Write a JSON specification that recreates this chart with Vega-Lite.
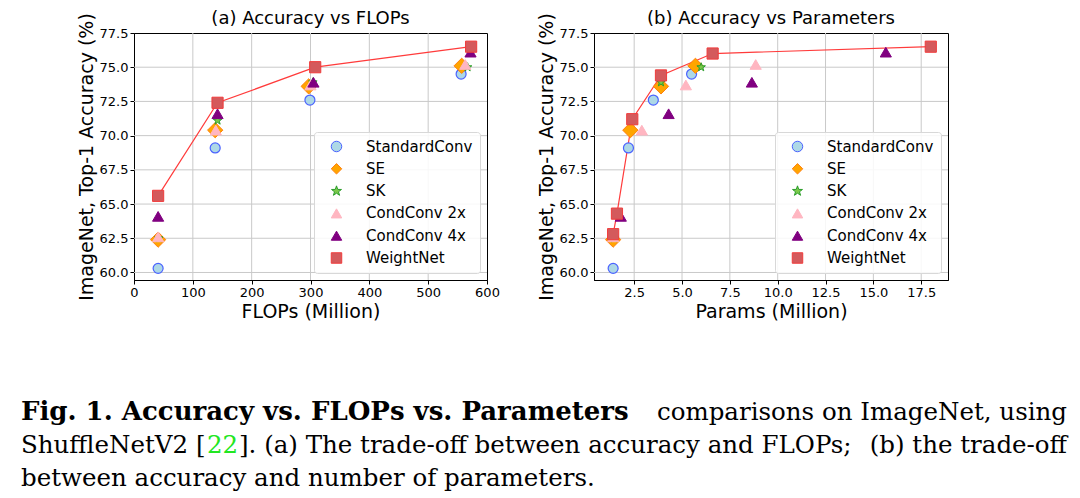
{
  "$schema": "https://vega.github.io/schema/vega-lite/v6.json",
  "autosize": {"type": "pad"},
  "padding": {"left": 21, "top": 9, "right": 5, "bottom": 0},
  "bounds": "flush",
  "columns": 2,
  "spacing": {"column": 107, "row": 100},
  "datasets": {
    "flops": [
      {"model": "StandardConv", "flops": 41, "acc": 60.3},
      {"model": "StandardConv", "flops": 138, "acc": 69.1},
      {"model": "StandardConv", "flops": 299, "acc": 72.6},
      {"model": "StandardConv", "flops": 556, "acc": 74.5},
      {"model": "SE", "flops": 41, "acc": 62.4},
      {"model": "SE", "flops": 138, "acc": 70.4},
      {"model": "SE", "flops": 297, "acc": 73.6},
      {"model": "SE", "flops": 557, "acc": 75.1},
      {"model": "SK", "flops": 42, "acc": 62.5},
      {"model": "SK", "flops": 142, "acc": 71.1},
      {"model": "SK", "flops": 304, "acc": 73.9},
      {"model": "SK", "flops": 567, "acc": 75.0},
      {"model": "CondConv 2x", "flops": 41, "acc": 62.6},
      {"model": "CondConv 2x", "flops": 139, "acc": 70.4},
      {"model": "CondConv 2x", "flops": 300, "acc": 73.7},
      {"model": "CondConv 2x", "flops": 563, "acc": 75.2},
      {"model": "CondConv 4x", "flops": 41, "acc": 64.1},
      {"model": "CondConv 4x", "flops": 142, "acc": 71.6},
      {"model": "CondConv 4x", "flops": 305, "acc": 73.9},
      {"model": "CondConv 4x", "flops": 572, "acc": 76.1},
      {"model": "WeightNet", "flops": 41, "acc": 65.6},
      {"model": "WeightNet", "flops": 142, "acc": 72.4},
      {"model": "WeightNet", "flops": 308, "acc": 75.0},
      {"model": "WeightNet", "flops": 573, "acc": 76.5}
    ],
    "params": [
      {"model": "StandardConv", "params": 1.4, "acc": 60.3},
      {"model": "StandardConv", "params": 2.2, "acc": 69.1},
      {"model": "StandardConv", "params": 3.5, "acc": 72.6},
      {"model": "StandardConv", "params": 5.5, "acc": 74.5},
      {"model": "SE", "params": 1.4, "acc": 62.4},
      {"model": "SE", "params": 2.3, "acc": 70.4},
      {"model": "SE", "params": 3.9, "acc": 73.6},
      {"model": "SE", "params": 5.7, "acc": 75.1},
      {"model": "SK", "params": 1.45, "acc": 62.5},
      {"model": "SK", "params": 2.4, "acc": 71.1},
      {"model": "SK", "params": 3.9, "acc": 73.9},
      {"model": "SK", "params": 6.0, "acc": 75.0},
      {"model": "CondConv 2x", "params": 1.4, "acc": 62.6},
      {"model": "CondConv 2x", "params": 2.9, "acc": 70.4},
      {"model": "CondConv 2x", "params": 5.2, "acc": 73.7},
      {"model": "CondConv 2x", "params": 8.85, "acc": 75.2},
      {"model": "CondConv 4x", "params": 1.8, "acc": 64.1},
      {"model": "CondConv 4x", "params": 4.3, "acc": 71.6},
      {"model": "CondConv 4x", "params": 8.65, "acc": 73.9},
      {"model": "CondConv 4x", "params": 15.65, "acc": 76.1},
      {"model": "WeightNet", "params": 1.4, "acc": 62.8},
      {"model": "WeightNet", "params": 1.6, "acc": 64.3},
      {"model": "WeightNet", "params": 2.4, "acc": 71.2},
      {"model": "WeightNet", "params": 3.9, "acc": 74.4},
      {"model": "WeightNet", "params": 6.6, "acc": 76.0},
      {"model": "WeightNet", "params": 18.0, "acc": 76.5}
    ],
    "accTicks": [{"tick": 60}, {"tick": 62.5}, {"tick": 65}, {"tick": 67.5}, {"tick": 70}, {"tick": 72.5}, {"tick": 75}],
    "flopsTicks": [{"tick": 100}, {"tick": 200}, {"tick": 300}, {"tick": 400}, {"tick": 500}],
    "paramsTicks": [{"tick": 2.5}, {"tick": 5}, {"tick": 7.5}, {"tick": 10}, {"tick": 12.5}, {"tick": 15}, {"tick": 17.5}],
    "caption": [
      {"line": 1, "side": "left", "role": "heading", "text": "Fig. 1. Accuracy vs. FLOPs vs. Parameters"},
      {"line": 1, "side": "right", "role": "body", "text": "comparisons on ImageNet, using"},
      {"line": 2, "side": "left", "role": "body", "text": "ShuffleNetV2 ["},
      {"line": 2, "side": "left", "role": "citation", "text": "22"},
      {"line": 2, "side": "left", "role": "after-citation", "text": "]. (a) The trade-off between accuracy and FLOPs;"},
      {"line": 2, "side": "right", "role": "body", "text": "(b) the trade-off"},
      {"line": 3, "side": "left", "role": "body", "text": "between accuracy and number of parameters."}
    ]
  },
  "concat": [
    {
      "width": 353,
      "height": 247,
      "title": "(a) Accuracy vs FLOPs",
      "layer": [
        {
          "data": {"name": "flopsTicks"},
          "mark": {"type": "rule", "color": "#c9c9c9", "strokeWidth": 1},
          "encoding": {"x": {"field": "tick", "type": "quantitative", "scale": {"domain": [0, 600], "nice": false, "zero": false}, "axis": {"values": [0, 100, 200, 300, 400, 500, 600], "format": "d", "title": "FLOPs (Million)"}}}
        },
        {
          "data": {"name": "accTicks"},
          "mark": {"type": "rule", "color": "#c9c9c9", "strokeWidth": 1},
          "encoding": {"y": {"field": "tick", "type": "quantitative", "scale": {"domain": [59.45, 77.5], "nice": false, "zero": false}, "axis": {"values": [60, 62.5, 65, 67.5, 70, 72.5, 75, 77.5], "format": ".1f", "title": "ImageNet, Top-1 Accuracy (%)"}}}
        },
        {
          "data": {"name": "flops"},
          "encoding": {
            "x": {
              "field": "flops",
              "type": "quantitative",
              "scale": {"domain": [0, 600], "nice": false, "zero": false},
              "axis": {"values": [0, 100, 200, 300, 400, 500, 600], "format": "d", "title": "FLOPs (Million)"}
            },
            "y": {
              "field": "acc",
              "type": "quantitative",
              "scale": {"domain": [59.45, 77.5], "nice": false, "zero": false},
              "axis": {"values": [60, 62.5, 65, 67.5, 70, 72.5, 75, 77.5], "format": ".1f", "title": "ImageNet, Top-1 Accuracy (%)"}
            },
            "shape": {
              "field": "model", "type": "nominal",
              "scale": {
                "domain": ["StandardConv", "SE", "SK", "CondConv 2x", "CondConv 4x", "WeightNet"],
                "range": ["circle", "diamond", "M0,-1L0.235,-0.324L0.951,-0.309L0.38,0.124L0.588,0.809L0,0.4L-0.588,0.809L-0.38,0.124L-0.951,-0.309L-0.235,-0.324Z", "triangle-up", "triangle-up", "square"]
              },
              "legend": {"title": null}
            },
            "fill": {
              "field": "model", "type": "nominal",
              "scale": {
                "domain": ["StandardConv", "SE", "SK", "CondConv 2x", "CondConv 4x", "WeightNet"],
                "range": ["#add8e6", "#ffa500", "#7cc94a", "#ffb6c1", "#800080", "#d45a5c"]
              },
              "legend": {"title": null}
            },
            "stroke": {
              "field": "model", "type": "nominal",
              "scale": {
                "domain": ["StandardConv", "SE", "SK", "CondConv 2x", "CondConv 4x", "WeightNet"],
                "range": ["#4a62ff", "#ff7f0e", "#2a9d2a", "#ffb6c1", "#800080", "#f03c3c"]
              },
              "legend": {"title": null}
            }
          },
          "layer": [
            {
              "transform": [{"filter": "datum.model === 'WeightNet'"}],
              "mark": {"type": "line", "strokeWidth": 1.2},
              "encoding": {"stroke": {"value": "#ff3b3b"}, "fill": {"value": null}, "shape": {"value": "circle"}}
            },
            {"transform": [{"filter": "datum.model === 'StandardConv'"}], "mark": {"type": "point", "filled": true, "opacity": 1, "size": 100, "strokeWidth": 1.2}},
            {"transform": [{"filter": "datum.model === 'SE'"}], "mark": {"type": "point", "filled": true, "opacity": 1, "size": 235, "strokeWidth": 1}},
            {"transform": [{"filter": "datum.model === 'SK'"}], "mark": {"type": "point", "filled": true, "opacity": 1, "size": 80, "strokeWidth": 1}},
            {"transform": [{"filter": "datum.model === 'CondConv 2x' || datum.model === 'CondConv 4x'"}], "mark": {"type": "point", "filled": true, "opacity": 1, "size": 125, "strokeWidth": 1}},
            {"transform": [{"filter": "datum.model === 'WeightNet'"}], "mark": {"type": "point", "filled": true, "opacity": 1, "size": 125, "strokeWidth": 1}}
          ]
        }
      ]
    },
    {
      "width": 354,
      "height": 247,
      "title": "(b) Accuracy vs Parameters",
      "layer": [
        {
          "data": {"name": "paramsTicks"},
          "mark": {"type": "rule", "color": "#c9c9c9", "strokeWidth": 1},
          "encoding": {"x": {"field": "tick", "type": "quantitative", "scale": {"domain": [0.4, 18.9], "nice": false, "zero": false}, "axis": {"values": [2.5, 5, 7.5, 10, 12.5, 15, 17.5], "format": ".1f", "title": "Params (Million)"}}}
        },
        {
          "data": {"name": "accTicks"},
          "mark": {"type": "rule", "color": "#c9c9c9", "strokeWidth": 1},
          "encoding": {"y": {"field": "tick", "type": "quantitative", "scale": {"domain": [59.45, 77.5], "nice": false, "zero": false}, "axis": {"values": [60, 62.5, 65, 67.5, 70, 72.5, 75, 77.5], "format": ".1f", "title": "ImageNet, Top-1 Accuracy (%)"}}}
        },
        {
          "data": {"name": "params"},
          "encoding": {
            "x": {
              "field": "params",
              "type": "quantitative",
              "scale": {"domain": [0.4, 18.9], "nice": false, "zero": false},
              "axis": {"values": [2.5, 5, 7.5, 10, 12.5, 15, 17.5], "format": ".1f", "title": "Params (Million)"}
            },
            "y": {
              "field": "acc",
              "type": "quantitative",
              "scale": {"domain": [59.45, 77.5], "nice": false, "zero": false},
              "axis": {"values": [60, 62.5, 65, 67.5, 70, 72.5, 75, 77.5], "format": ".1f", "title": "ImageNet, Top-1 Accuracy (%)"}
            },
            "shape": {
              "field": "model", "type": "nominal",
              "scale": {
                "domain": ["StandardConv", "SE", "SK", "CondConv 2x", "CondConv 4x", "WeightNet"],
                "range": ["circle", "diamond", "M0,-1L0.235,-0.324L0.951,-0.309L0.38,0.124L0.588,0.809L0,0.4L-0.588,0.809L-0.38,0.124L-0.951,-0.309L-0.235,-0.324Z", "triangle-up", "triangle-up", "square"]
              },
              "legend": {"title": null}
            },
            "fill": {
              "field": "model", "type": "nominal",
              "scale": {
                "domain": ["StandardConv", "SE", "SK", "CondConv 2x", "CondConv 4x", "WeightNet"],
                "range": ["#add8e6", "#ffa500", "#7cc94a", "#ffb6c1", "#800080", "#d45a5c"]
              },
              "legend": {"title": null}
            },
            "stroke": {
              "field": "model", "type": "nominal",
              "scale": {
                "domain": ["StandardConv", "SE", "SK", "CondConv 2x", "CondConv 4x", "WeightNet"],
                "range": ["#4a62ff", "#ff7f0e", "#2a9d2a", "#ffb6c1", "#800080", "#f03c3c"]
              },
              "legend": {"title": null}
            }
          },
          "layer": [
            {
              "transform": [{"filter": "datum.model === 'WeightNet'"}],
              "mark": {"type": "line", "strokeWidth": 1.2},
              "encoding": {"stroke": {"value": "#ff3b3b"}, "fill": {"value": null}, "shape": {"value": "circle"}}
            },
            {"transform": [{"filter": "datum.model === 'StandardConv'"}], "mark": {"type": "point", "filled": true, "opacity": 1, "size": 100, "strokeWidth": 1.2}},
            {"transform": [{"filter": "datum.model === 'SE'"}], "mark": {"type": "point", "filled": true, "opacity": 1, "size": 235, "strokeWidth": 1}},
            {"transform": [{"filter": "datum.model === 'SK'"}], "mark": {"type": "point", "filled": true, "opacity": 1, "size": 80, "strokeWidth": 1}},
            {"transform": [{"filter": "datum.model === 'CondConv 2x' || datum.model === 'CondConv 4x'"}], "mark": {"type": "point", "filled": true, "opacity": 1, "size": 125, "strokeWidth": 1}},
            {"transform": [{"filter": "datum.model === 'WeightNet'"}], "mark": {"type": "point", "filled": true, "opacity": 1, "size": 125, "strokeWidth": 1}}
          ]
        }
      ]
    },
    {
      "width": 353,
      "height": 110,
      "view": {"stroke": null},
      "data": {"name": "caption"},
      "encoding": {
        "x": {"field": "side", "type": "nominal", "scale": {"type": "point", "domain": ["left", "right"], "range": [-113, 933], "padding": 0}, "axis": null},
        "y": {"field": "line", "type": "ordinal", "scale": {"type": "point", "domain": [1, 2, 3], "range": [39.6, 106.3], "padding": 0}, "axis": null},
        "text": {"field": "text"}
      },
      "layer": [
        {
          "transform": [{"filter": "datum.role === 'heading'"}],
          "mark": {"type": "text", "align": "left", "baseline": "alphabetic", "font": "DejaVu Serif", "fontSize": 26, "fontWeight": "bold", "color": "#000"}
        },
        {
          "transform": [{"filter": "datum.role === 'body' && datum.side === 'left'"}],
          "mark": {"type": "text", "align": "left", "baseline": "alphabetic", "font": "DejaVu Serif", "fontSize": 24.5, "color": "#000"}
        },
        {
          "transform": [{"filter": "datum.role === 'body' && datum.side === 'right'"}],
          "mark": {"type": "text", "align": "right", "baseline": "alphabetic", "font": "DejaVu Serif", "fontSize": 24.5, "color": "#000"}
        },
        {
          "transform": [{"filter": "datum.role === 'citation'"}],
          "mark": {"type": "text", "align": "left", "baseline": "alphabetic", "font": "DejaVu Serif", "fontSize": 24.5, "dx": 186, "color": "#22e622"}
        },
        {
          "transform": [{"filter": "datum.role === 'after-citation'"}],
          "mark": {"type": "text", "align": "left", "baseline": "alphabetic", "font": "DejaVu Serif", "fontSize": 24.5, "dx": 218, "color": "#000"}
        }
      ]
    }
  ],
  "resolve": {"scale": {"shape": "independent", "fill": "independent", "stroke": "independent"}},
  "config": {
    "font": "DejaVu Sans",
    "view": {"stroke": "#000", "strokeWidth": 1},
    "title": {"font": "DejaVu Sans", "fontSize": 18, "fontWeight": "normal", "color": "#000", "frame": "group", "offset": -15},
    "axis": {
      "grid": false,
      "labelFont": "DejaVu Sans", "labelFontSize": 13, "labelColor": "#000", "labelPadding": 2,
      "labelFlush": false, "labelOverlap": false,
      "titleFont": "DejaVu Sans", "titleFontSize": 19, "titleFontWeight": "normal", "titleColor": "#000", "titlePadding": 3,
      "tickColor": "#000", "tickSize": 4, "domainColor": "#000"
    },
    "legend": {
      "orient": "bottom-right", "offset": 7, "padding": 7,
      "strokeColor": "#d8d8d8", "fillColor": "rgba(255,255,255,0.85)", "cornerRadius": 3,
      "labelFont": "DejaVu Sans", "labelFontSize": 15, "labelColor": "#000", "labelOffset": 22,
      "symbolSize": 110, "symbolStrokeWidth": 1, "symbolOffset": 8, "rowPadding": 6.3
    }
  }
}
